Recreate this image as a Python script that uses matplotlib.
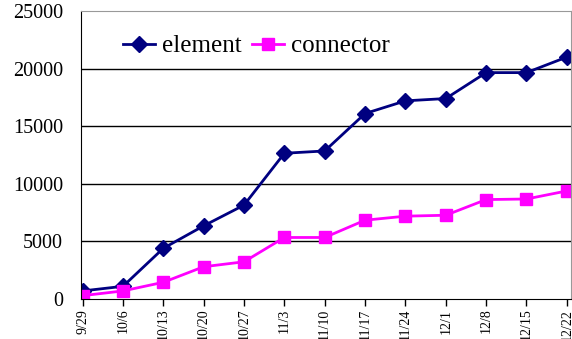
import matplotlib
matplotlib.use("Agg")
import matplotlib.pyplot as plt

dates = ["9/29", "10/6", "10/13", "10/20", "10/27", "11/3", "11/10",
         "11/17", "11/24", "12/1", "12/8", "12/15", "12/22"]
element = [700, 1100, 4400, 6350, 8150, 12650, 12850,
           16100, 17200, 17400, 19650, 19650, 21000]
connector = [290, 700, 1450, 2800, 3230, 5340, 5340,
             6840, 7190, 7270, 8630, 8680, 9380]

plt.rcParams['font.family'] = ['Liberation Serif', 'DejaVu Serif']

fig = plt.figure(figsize=(5.72, 3.39), dpi=100)
ax = fig.add_axes([0.1416, 0.118, 0.8564, 0.8496])

x = list(range(len(dates)))
ax.plot(x, element, color='#000080', lw=2, marker='D', ms=8.5, label='element')
ax.plot(x, connector, color='#FF00FF', lw=2, marker='s', ms=9, label='connector')

ax.set_xlim(-0.04, 12.1)
ax.set_ylim(0, 25000)
ax.set_yticks(range(0, 25001, 5000))
ax.set_xticks(x)
ax.set_xticklabels(dates, rotation=90, fontsize=10)
ax.tick_params(axis='y', length=0, labelsize=14.5, pad=13)
ax.tick_params(axis='x', length=5, width=1, direction='out', pad=2)

for v in range(5000, 25000, 5000):
    ax.axhline(v, color='black', lw=1, zorder=0)

ax.spines['left'].set_color('black')
ax.spines['bottom'].set_color('black')
ax.spines['top'].set_color('#999999')
ax.spines['right'].set_color('#999999')

ax.legend(loc='upper left', bbox_to_anchor=(0.039, 0.995), ncol=2, frameon=False,
          fontsize=18, handlelength=1.3, handletextpad=0.28, columnspacing=0.4)

fig.savefig("out.png", dpi=100)
